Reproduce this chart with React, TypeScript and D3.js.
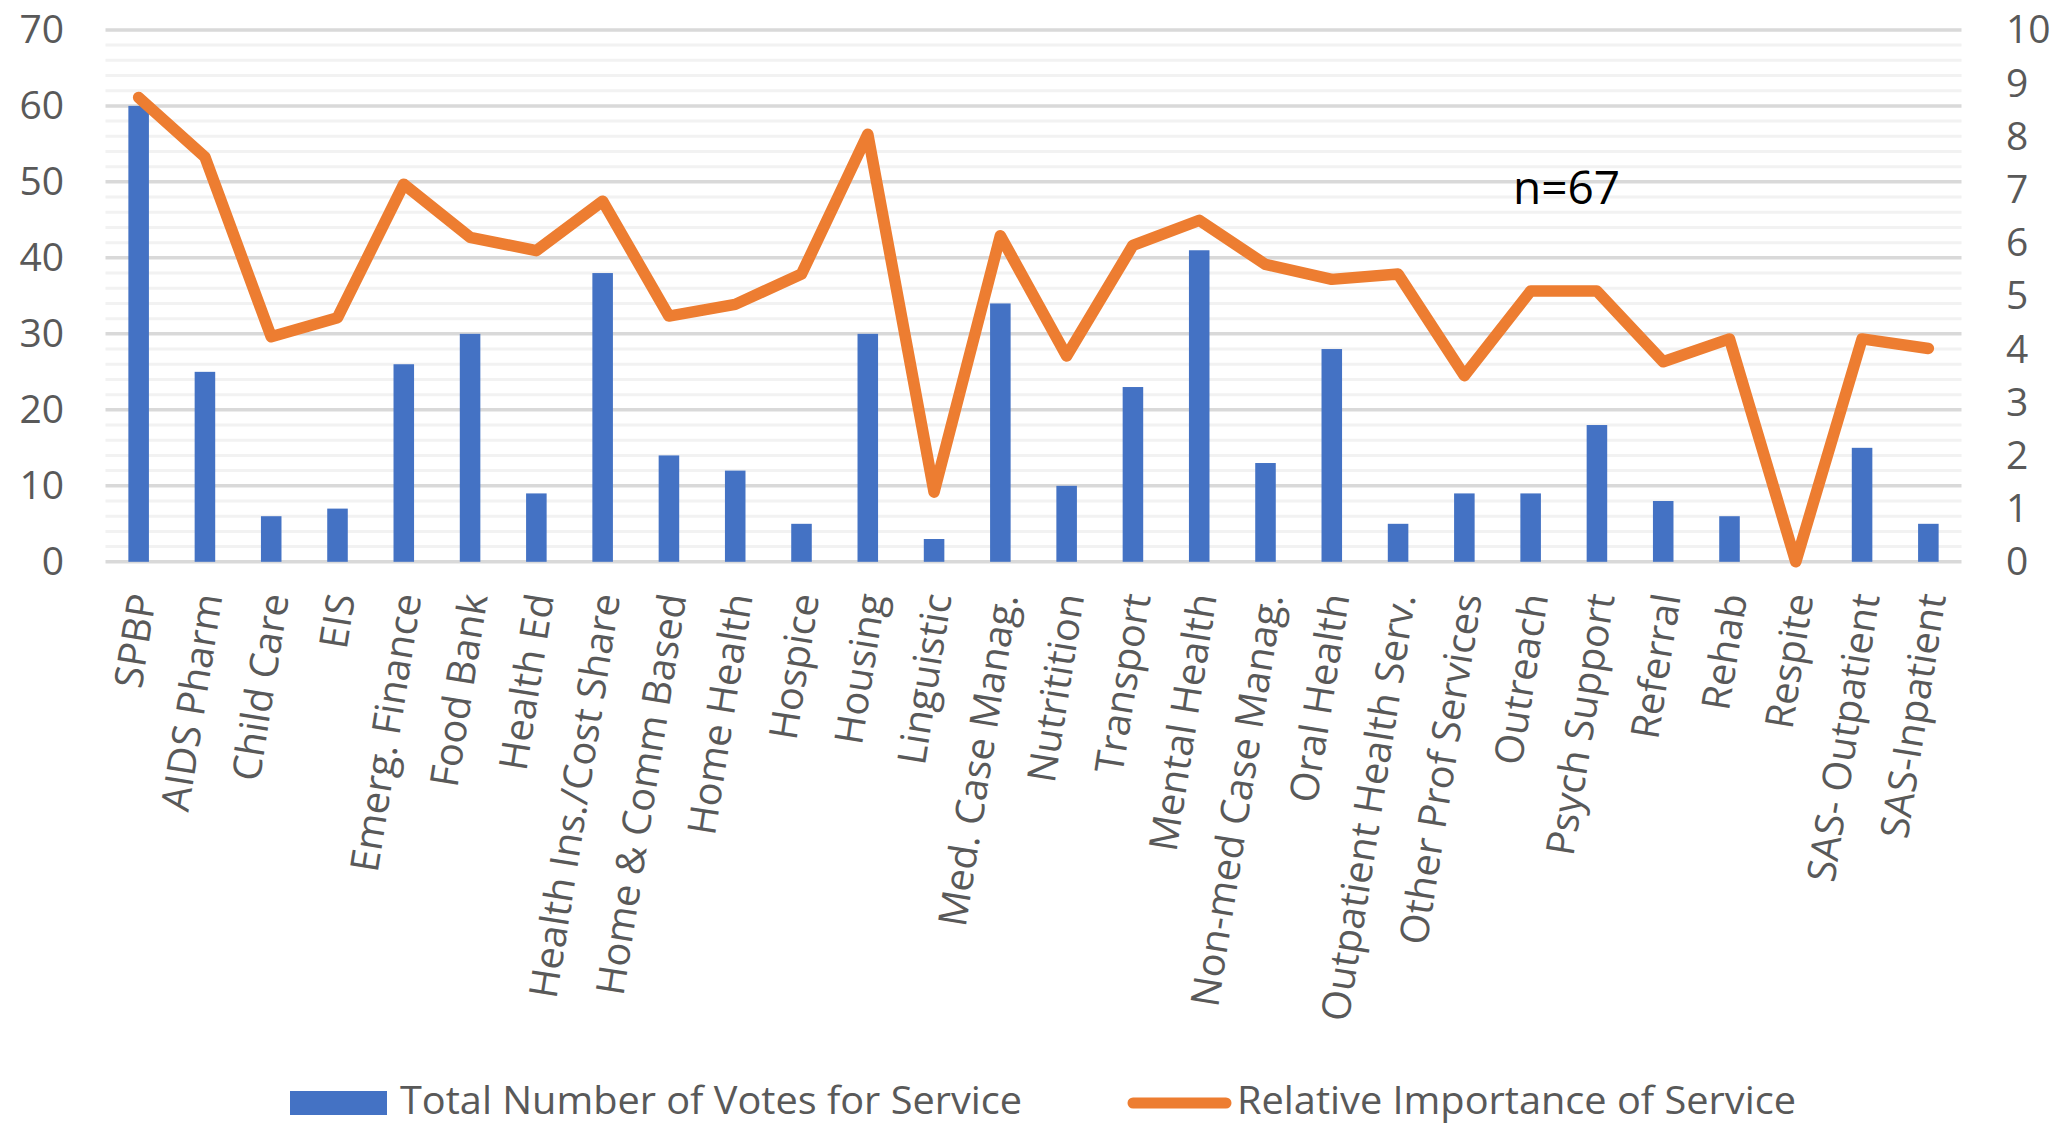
import React from 'react';
import * as d3 from 'd3';

const categories = [
  'SPBP', 'AIDS Pharm', 'Child Care', 'EIS', 'Emerg. Finance', 'Food Bank', 'Health Ed',
  'Health Ins./Cost Share', 'Home & Comm Based', 'Home Health', 'Hospice', 'Housing', 'Linguistic',
  'Med. Case Manag.', 'Nutritition', 'Transport', 'Mental Health', 'Non-med Case Manag.', 'Oral Health',
  'Outpatient Health Serv.', 'Other Prof Services', 'Outreach', 'Psych Support', 'Referral', 'Rehab',
  'Respite', 'SAS- Outpatient', 'SAS-Inpatient',
];
const votes = [60, 25, 6, 7, 26, 30, 9, 38, 14, 12, 5, 30, 3, 34, 10, 23, 41, 13, 28, 5, 9, 9, 18, 8, 6, 0, 15, 5];
const importance = [
  8.73, 7.61, 4.23, 4.59, 7.1, 6.1, 5.85, 6.78, 4.62, 4.84, 5.41, 8.04, 1.31, 6.13, 3.87, 5.95, 6.42,
  5.59, 5.31, 5.41, 3.5, 5.09, 5.09, 3.76, 4.19, 0, 4.19, 4.01,
];
const leftTicks = [0, 10, 20, 30, 40, 50, 60, 70];
const rightTicks = [0, 1, 2, 3, 4, 5, 6, 7, 8, 9, 10];
const minorTicks = d3.range(0, 71, 2).filter((v) => v % 10 !== 0);
const seriesNames = ['Total Number of Votes for Service', 'Relative Importance of Service'];
const annotation = 'n=67';

const W = 2068;
const H = 1125;
const FONT = "'Open Sans', 'DejaVu Sans', sans-serif";

export default function App() {
  const x = d3.scaleBand<string>().domain(categories).range([105.5, 1961.5]);
  const yL = d3.scaleLinear().domain([0, 70]).range([561.8, 29.9]);
  const yR = d3.scaleLinear().domain([0, 10]).range([561.8, 29.9]);
  const barW = x.bandwidth() * 0.31;
  const cx = (c: string) => (x(c) as number) + x.bandwidth() / 2;

  const line = d3
    .line<number>()
    .x((_, i) => cx(categories[i]))
    .y((d) => yR(d));

  const [x0, x1] = x.range();

  return (
    <svg
      width={W}
      height={H}
      style={{ position: 'absolute', left: 0, top: 0, background: '#fff' }}
      fontFamily={FONT}
    >
      <rect x={0} y={0} width={W} height={H} fill="#fff" />
      {minorTicks.map((t) => (
        <line key={'m' + t} x1={x0} x2={x1} y1={yL(t)} y2={yL(t)} stroke="#F2F2F2" strokeWidth={3} />
      ))}
      {leftTicks.map((t) => (
        <line key={'g' + t} x1={x0} x2={x1} y1={yL(t)} y2={yL(t)} stroke="#D9D9D9" strokeWidth={3.5} />
      ))}
      {leftTicks.map((t) => (
        <text key={'l' + t} x={64} y={yL(t) - 2} textAnchor="end" dominantBaseline="central" fontSize={39} fill="#595959">
          {t}
        </text>
      ))}
      {rightTicks.map((t) => (
        <text key={'r' + t} x={2006} y={yR(t) - 2} textAnchor="start" dominantBaseline="central" fontSize={39} fill="#595959">
          {t}
        </text>
      ))}
      {categories.map((c, i) => (
        <rect
          key={'b' + c}
          x={cx(c) - barW / 2}
          y={yL(votes[i])}
          width={barW}
          height={yL(0) - yL(votes[i])}
          fill="#4472C4"
        />
      ))}
      <path d={line(importance) || ''} fill="none" stroke="#ED7D31" strokeWidth={11.5} strokeLinejoin="round" strokeLinecap="round" />
      {categories.map((c) => (
        <text
          key={'c' + c}
          transform={`translate(${cx(c) + 4},${594}) rotate(-81)`}
          textAnchor="end"
          dy="0.35em"
          fontSize={39.5}
          fill="#595959"
        >
          {c}
        </text>
      ))}
      <text x={1513} y={204} fontSize={46} fill="#000">
        {annotation}
      </text>
      <rect x={290} y={1091} width={97} height={24} fill="#4472C4" />
      <text x={400} y={1114} fontSize={39} fill="#595959" textLength={622} lengthAdjust="spacingAndGlyphs">
        {seriesNames[0]}
      </text>
      <line x1={1133} x2={1226} y1={1103} y2={1103} stroke="#ED7D31" strokeWidth={11} strokeLinecap="round" />
      <text x={1237} y={1114} fontSize={39} fill="#595959" textLength={559} lengthAdjust="spacingAndGlyphs">
        {seriesNames[1]}
      </text>
    </svg>
  );
}
